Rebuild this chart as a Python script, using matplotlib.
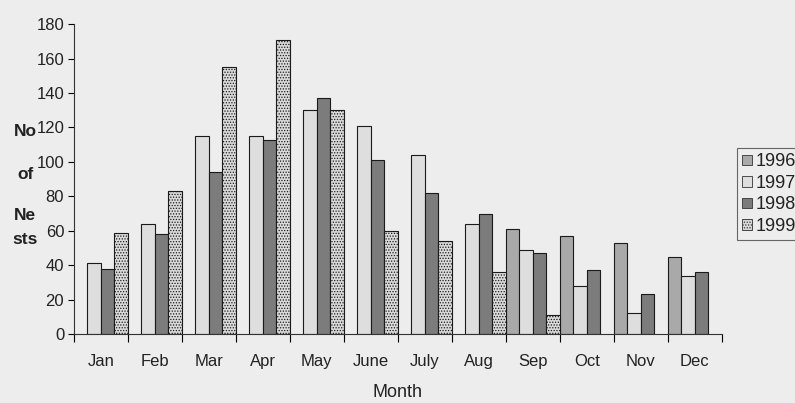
import numpy as np
from matplotlib import pyplot as plt
from matplotlib.patches import Patch

plt.rcParams["font.family"] = ["Liberation Sans", "DejaVu Sans"]
plt.rcParams["hatch.linewidth"] = 0.6

months = ["Jan", "Feb", "Mar", "Apr", "May", "June", "July",
          "Aug", "Sep", "Oct", "Nov", "Dec"]
years = ["1996", "1997", "1998", "1999"]
nan = np.nan
nests_1996 = [nan, nan, nan, nan, nan, nan, nan, nan, 61, 57, 53, 45]
nests_1997 = [41, 64, 115, 115, 130, 121, 104, 64, 49, 28, 12, 34]
nests_1998 = [38, 58, 94, 113, 137, 101, 82, 70, 47, 37, 23, 36]
nests_1999 = [59, 83, 155, 171, 130, 60, 54, 36, 11, nan, nan, nan]

series = [nests_1996, nests_1997, nests_1998, nests_1999]
colors = ["#a9a9a9", "#dedede", "#7c7c7c", "#dadada"]
hatches = [None, None, None, "......"]
bg = "#ededed"

fig = plt.figure(figsize=(7.95, 4.03), dpi=100, facecolor=bg)
ax = fig.add_axes([0.093, 0.171, 0.815, 0.769], facecolor=bg)

x = np.arange(len(months))
w = 0.25
for i, vals in enumerate(series):
    ax.bar(x + (i - 1.5) * w, vals, width=w, color=colors[i],
           edgecolor="#1a1a1a", linewidth=0.8, hatch=hatches[i],
           label=years[i])

ax.set_xlim(-0.5, len(months) - 0.5)
ax.set_ylim(0, 180)
ax.set_yticks(range(0, 181, 20))
ax.set_xticks(x)
ax.set_xticklabels(months)
ax.set_xticks(np.arange(-0.5, len(months)), minor=True)
ax.tick_params(axis="x", which="major", length=0, pad=14, labelsize=12,
               labelcolor="#222222")
ax.tick_params(axis="x", which="minor", length=6, width=0.8, direction="out")
ax.tick_params(axis="y", length=4, width=0.8, direction="out", pad=3,
               labelsize=12, labelcolor="#222222")
for s in ["top", "right"]:
    ax.spines[s].set_visible(False)
for s in ["left", "bottom"]:
    ax.spines[s].set_linewidth(0.8)
    ax.spines[s].set_color("#333333")

ax.set_xlabel("Month", fontsize=13, color="#222222", labelpad=11)

# stacked y label as in the original
for txt, yy in [("No", 132), ("of", 174), ("Ne", 216), ("sts", 239)]:
    fig.text(25 / 795, 1 - yy / 403, txt, ha="center", va="center",
             fontsize=12.5, fontweight="bold", color="#222222")

handles = [Patch(facecolor=colors[i], edgecolor="#333333", linewidth=0.6,
                 hatch=hatches[i], label=years[i]) for i in range(4)]
leg = fig.legend(handles=handles, loc="upper left",
                 bbox_to_anchor=(737 / 795, 1 - 148 / 403), fontsize=13,
                 handlelength=0.55, handleheight=0.55, handletextpad=0.2,
                 labelspacing=0.25, borderpad=0.3, borderaxespad=0,
                 fancybox=False, frameon=True)
leg.get_frame().set_edgecolor("#444444")
leg.get_frame().set_linewidth(0.8)
leg.get_frame().set_facecolor(bg)
for t in leg.get_texts():
    t.set_color("#222222")

fig.savefig("out.png", dpi=100, facecolor=bg)
